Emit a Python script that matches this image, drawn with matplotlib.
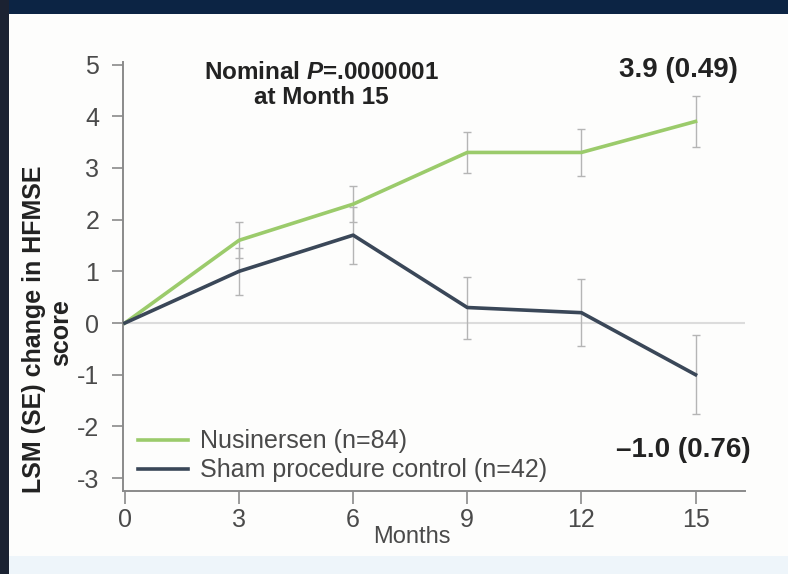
import matplotlib
matplotlib.use("Agg")
import matplotlib.pyplot as plt
from matplotlib.patches import Rectangle

plt.rcParams["font.family"] = ["Liberation Sans", "DejaVu Sans"]
plt.rcParams["axes.unicode_minus"] = False
plt.rcParams["mathtext.fontset"] = "custom"
plt.rcParams["mathtext.rm"] = "Liberation Sans"
plt.rcParams["mathtext.bf"] = "Liberation Sans:bold"
plt.rcParams["mathtext.bfit"] = "Liberation Sans:italic:bold"

# data
months = [0, 3, 6, 9, 12, 15]
nusinersen = [0.0, 1.6, 2.3, 3.3, 3.3, 3.9]
nusinersen_se = [0.0, 0.35, 0.35, 0.40, 0.45, 0.49]
sham = [0.0, 1.0, 1.7, 0.3, 0.2, -1.0]
sham_se = [0.0, 0.45, 0.55, 0.60, 0.65, 0.76]
y_ticks = [-3, -2, -1, 0, 1, 2, 3, 4, 5]

GREEN = "#9bcb6b"
SLATE = "#3a4758"
ERR = "#b5b5b5"
TXT = "#222222"
GREY_TXT = "#4a4a4a"

W, H = 788, 574
fig = plt.figure(figsize=(W / 100, H / 100), dpi=100)
fig.patch.set_facecolor("#fdfdfc")

# frame of the screenshot: navy band on top, dark rule on the left, pale strip at bottom
fig.patches.append(Rectangle((0, 1 - 14 / H), 1, 14 / H, transform=fig.transFigure,
                             facecolor="#0c2444", edgecolor="none", zorder=0))
fig.patches.append(Rectangle((0, 0), 9 / W, 1, transform=fig.transFigure,
                             facecolor="#1b2232", edgecolor="none", zorder=0))
fig.patches.append(Rectangle((9 / W, 0), 1, 18 / H, transform=fig.transFigure,
                             facecolor="#eef5fa", edgecolor="none", zorder=0))

ax = fig.add_axes([123 / W, (H - 491) / H, 622 / W, 429 / H])
ax.set_facecolor("none")

ax.axhline(0, color="#dcdcdc", lw=1.5, zorder=1)

ax.errorbar(months[1:], nusinersen[1:], yerr=nusinersen_se[1:], fmt="none",
            ecolor=ERR, elinewidth=1.0, capsize=3, capthick=1.0, zorder=2)
ax.errorbar(months[1:], sham[1:], yerr=sham_se[1:], fmt="none",
            ecolor=ERR, elinewidth=1.0, capsize=3, capthick=1.0, zorder=2)
ax.plot(months, nusinersen, color=GREEN, lw=2.6, label="Nusinersen (n=84)", zorder=3)
ax.plot(months, sham, color=SLATE, lw=2.6, label="Sham procedure control (n=42)", zorder=3)

ax.set_xlim(-0.05, 16.3)
ax.set_ylim(-3.25, 5.05)
ax.set_xticks(months)
ax.set_yticks(y_ticks)

for side in ["top", "right"]:
    ax.spines[side].set_visible(False)
for side in ["left", "bottom"]:
    ax.spines[side].set_color("#8a8a8a")
    ax.spines[side].set_linewidth(1.4)

ax.tick_params(axis="both", colors="#8a8a8a", labelcolor=GREY_TXT, labelsize=18,
               width=1.2)
ax.tick_params(axis="y", length=8, pad=9)
ax.tick_params(axis="x", length=9, pad=3)

ax.set_xlabel("Months", fontsize=17, color=GREY_TXT)
ax.xaxis.set_label_coords((412 - 123) / 622, (491 - 526) / 429)

# two-line y label, placed line by line as in the reference
fig.text(34 / W, 1 - 329 / H, "LSM (SE) change in HFMSE", rotation=90, fontsize=18,
         fontweight="bold", color=TXT, ha="center", va="center")
fig.text(61 / W, 1 - 333 / H, "score", rotation=90, fontsize=18,
         fontweight="bold", color=TXT, ha="center", va="center")

ax.text(5.17, 4.6, "Nominal $\\bfit{P}$=.0000001\nat Month 15", fontsize=17.5,
        fontweight="bold", color=TXT, ha="center", va="center", linespacing=1.1)
ax.text(14.55, 4.9, "3.9 (0.49)", fontsize=20, fontweight="bold", color=TXT,
        ha="center", va="center")
ax.text(14.68, -2.45, "\u20131.0 (0.76)", fontsize=20, fontweight="bold", color=TXT,
        ha="center", va="center")

leg = ax.legend(loc="lower left", bbox_to_anchor=(0.024, 0.02), frameon=False,
                fontsize=18, handlelength=2.0, handletextpad=0.5, labelspacing=0.2,
                borderpad=0, borderaxespad=0)
for t in leg.get_texts():
    t.set_color(GREY_TXT)

fig.savefig("out.png", dpi=100, facecolor=fig.get_facecolor())
